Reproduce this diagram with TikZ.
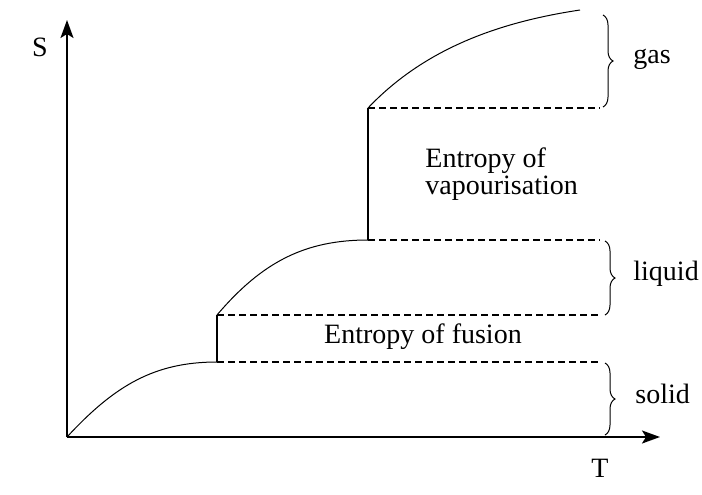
\documentclass[tikz,border=0pt]{standalone}
\usepackage{fontspec}
\setmainfont{Liberation Serif}
\usetikzlibrary{arrows.meta,decorations.pathreplacing}
\begin{document}
\begin{tikzpicture}[x=0.5pt,y=-0.5pt,
  axis/.style={line width=0.9pt,-{Stealth[length=9pt,width=6.5pt,inset=2pt]}},
  curve/.style={line width=0.5pt},
  jump/.style={line width=1pt},
  level/.style={line width=0.8pt,dash pattern=on 3.5pt off 2pt},
  phasebrace/.style={line width=0.5pt,decorate,decoration={brace,amplitude=5pt,aspect=0.5}},
  lbl/.style={font=\fontsize{14}{16}\selectfont,inner sep=0pt}]
\useasboundingbox (0,0) rectangle (702,494);
% key points
\coordinate (O) at (67,437);
\coordinate (Ytip) at (67,20);
\coordinate (Xtip) at (660,437);
\coordinate (s1) at (217,362);
\coordinate (l0) at (217,315);
\coordinate (l1) at (368,240);
\coordinate (g0) at (368,108);
\coordinate (g1) at (580,10);
\coordinate (e1) at (600,362);
\coordinate (e2) at (600,315);
\coordinate (e3) at (600,240);
\coordinate (e4) at (600,108);
% axes
\draw[axis] (O) -- (Ytip);
\draw[axis] (O) -- (Xtip);
% curves
\draw[curve] (O) .. controls (115,385) and (155,362) .. (s1);
\draw[jump] (s1) -- (l0);
\draw[curve] (l0) .. controls (262,262) and (305,240) .. (l1);
\draw[jump] (l1) -- (g0);
\draw[curve] (g0) .. controls (425,48) and (500,22) .. (g1);
% dashed levels
\draw[level] (s1) -- (e1);
\draw[level] (l0) -- (e2);
\draw[level] (l1) -- (e3);
\draw[level] (g0) -- (e4);
% braces
\coordinate (bg1) at (603,15);  \coordinate (bg2) at (603,107);
\coordinate (bl1) at (605,241); \coordinate (bl2) at (605,315);
\coordinate (bs1) at (605,363); \coordinate (bs2) at (605,435);
\draw[phasebrace] (bg1) -- (bg2);
\draw[phasebrace] (bl1) -- (bl2);
\draw[phasebrace] (bs1) -- (bs2);
% labels
\node[lbl,anchor=base west] (gas) at (633,63) {gas};
\node[lbl,anchor=base west] (liquid) at (633,280) {liquid};
\node[lbl,anchor=base west] (solid) at (635,403) {solid};
\node[lbl] (S) at (40,47) {S};
\node[lbl] (T) at (600,468) {T};
\node[lbl,anchor=base] (fus) at (423,343) {Entropy of fusion};
\node[lbl,anchor=base west] (vap1) at (425,167) {Entropy of};
\node[lbl,anchor=base west] (vap2) at (425,194) {vapourisation};
\end{tikzpicture}
\end{document}
